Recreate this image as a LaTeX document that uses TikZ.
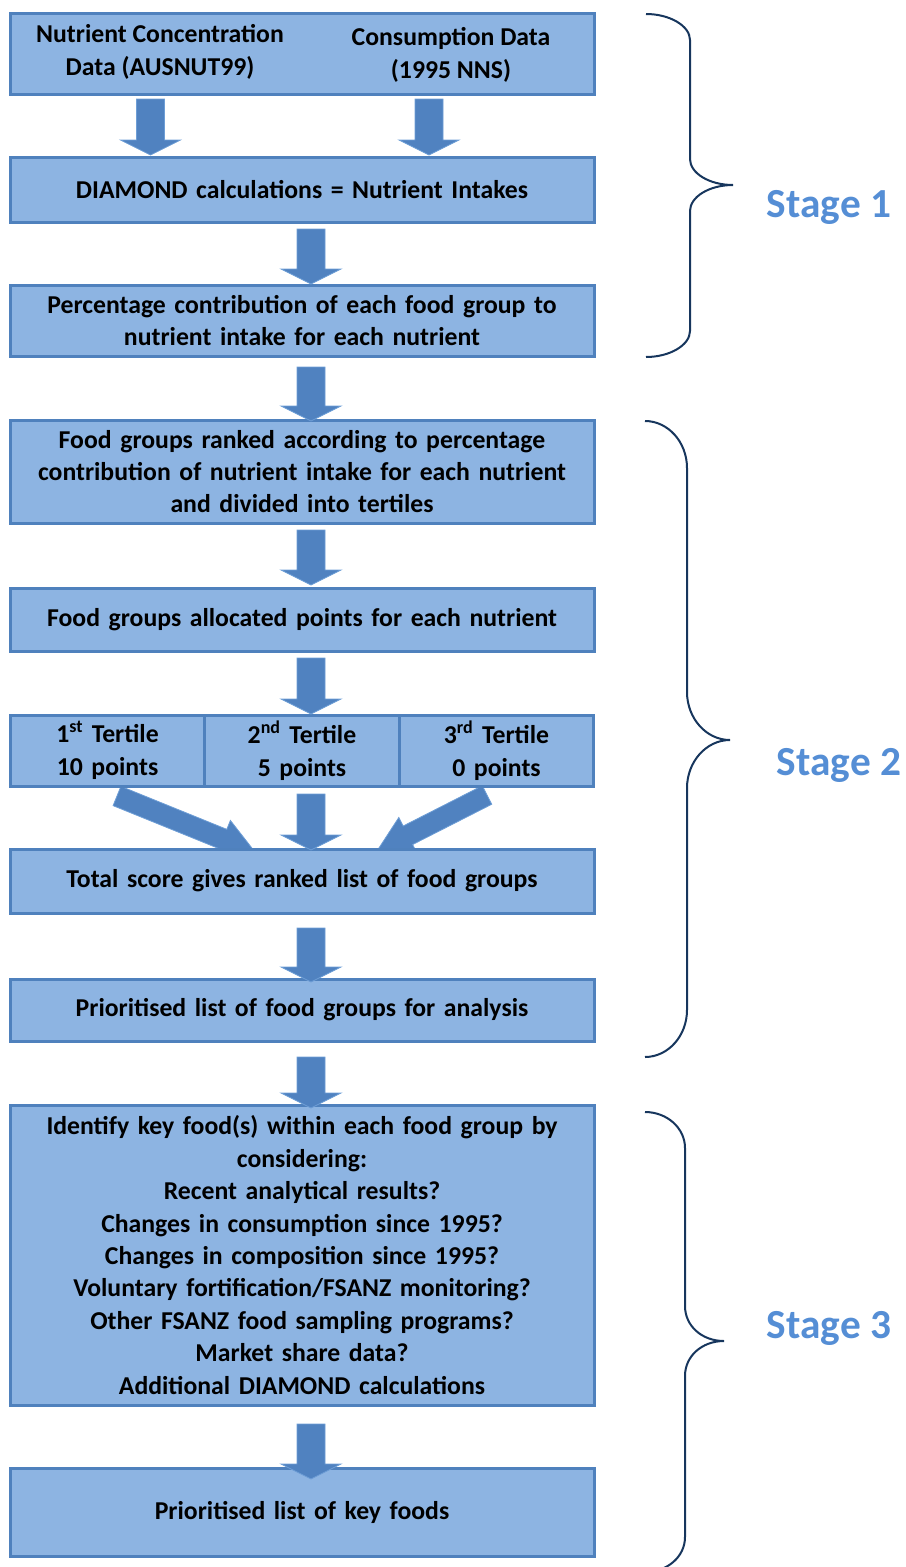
\documentclass[tikz,border=0pt]{standalone}
\usepackage{fontspec}
\setmainfont{Carlito}
\usetikzlibrary{calc}
\definecolor{boxfill}{RGB}{141,180,226}
\definecolor{boxline}{RGB}{79,129,189}
\definecolor{arrfill}{RGB}{80,130,192}
\definecolor{arrline}{RGB}{110,158,214}
\definecolor{bracecol}{RGB}{23,54,93}
\definecolor{stagecol}{RGB}{85,142,213}
% #1 start, #2 tip, #3 shaft half width, #4 head half width, #5 head length
\newcommand{\blockarrow}[5]{%
  \coordinate (ba-h) at ($(#2)!#5!(#1)$);
  \filldraw[arrowstyle] ($(#1)!#3!90:(#2)$) -- ($(ba-h)!#3!90:(#2)$) -- ($(ba-h)!#4!90:(#2)$) -- (#2) -- ($(ba-h)!#4!-90:(#2)$) -- ($(ba-h)!#3!-90:(#2)$) -- ($(#1)!#3!-90:(#2)$) -- cycle;}
\newcommand{\vblockarrow}[2]{\blockarrow{#1}{#2}{10.5pt}{22.5pt}{11.25pt}}
\newcommand{\dblockarrow}[2]{\blockarrow{#1}{#2}{7.8pt}{15pt}{26pt}}
\tikzset{
  boxtext/.style={font=\fontsize{19.3}{24.3}\selectfont\bfseries, align=center, inner sep=0pt},
  box/.style={boxtext, draw=boxline, fill=boxfill, line width=2.25pt, minimum width=438pt, text width=432pt},
  cell/.style={boxtext, draw=boxline, fill=boxfill, line width=2.25pt, minimum width=146pt, minimum height=53.25pt, text width=140pt},
  arrowstyle/.style={fill=arrfill, draw=arrline, line width=0.6pt, line join=miter},
  bracestyle/.style={draw=bracecol, line width=1.5pt},
  stage/.style={font=\fontsize{31}{36}\selectfont\bfseries, text=stagecol, inner sep=0pt}
}
\begin{document}
\begin{tikzpicture}[x=0.75pt, y=-0.75pt]
\useasboundingbox (0,0) rectangle (906,1567);
% diagonal arrows (lie under the box they point to)
\coordinate (a7s) at (117,796);   \coordinate (a7e) at (255,852);
\coordinate (a9s) at (487,795);   \coordinate (a9e) at (377,851);
\dblockarrow{a7s}{a7e}
\dblockarrow{a9s}{a9e}
% boxes
\node[box, minimum height=60.75pt] (box1) at (302,53.5) {};
\node[boxtext] (t1a) at (160,52) {Nutrient Concentration\\Data (AUSNUT99)};
\node[boxtext] (t1b) at (451,55) {Consumption Data\\(1995 NNS)};
\node[box, minimum height=48.75pt] (box2) at (302,189.5) {DIAMOND calculations = Nutrient Intakes};
\node[box, minimum height=53.25pt] (box3) at (302,320.5) {Percentage contribution of each food group to\\nutrient intake for each nutrient};
\node[box, minimum height=77.25pt] (box4) at (302,471.5) {Food groups ranked according to percentage\\contribution of nutrient intake for each nutrient\\and divided into tertiles};
\node[box, minimum height=47.25pt] (box5) at (302,619.5) {Food groups allocated points for each nutrient};
\node[cell] (c1) at (107.5,750.5) {1\textsuperscript{st} Tertile\\10 points};
\node[cell] (c2) at (302,750.5) {2\textsuperscript{nd} Tertile\\5 points};
\node[cell] (c3) at (496.5,750.5) {3\textsuperscript{rd} Tertile\\0 points};
\node[box, minimum height=48pt] (box7) at (302,881) {Total score gives ranked list of food groups};
\node[box, minimum height=46.5pt] (box8) at (302,1010) {Prioritised list of food groups for analysis};
\node[box, minimum height=225pt] (box9) at (302,1255) {Identify key food(s) within each food group by\\considering:\\Recent analytical results?\\Changes in consumption since 1995?\\Changes in composition since 1995?\\Voluntary fortification/FSANZ monitoring?\\Other FSANZ food sampling programs?\\Market share data?\\Additional DIAMOND calculations};
\node[box, minimum height=66pt] (box10) at (302,1512) {Prioritised list of key foods};
% vertical arrows
\coordinate (a1s) at (150.5,99);  \coordinate (a1e) at (150.5,155);
\coordinate (a2s) at (429,99);    \coordinate (a2e) at (429,155);
\coordinate (a3s) at (311,229);   \coordinate (a3e) at (311,284);
\coordinate (a4s) at (311,367);   \coordinate (a4e) at (311,421);
\coordinate (a5s) at (311,530);   \coordinate (a5e) at (311,585);
\coordinate (a6s) at (311,658);   \coordinate (a6e) at (311,714);
\coordinate (a8s) at (311,794);   \coordinate (a8e) at (311,850);
\coordinate (a10s) at (311,928);  \coordinate (a10e) at (311,982);
\coordinate (a11s) at (311,1057); \coordinate (a11e) at (311,1108);
\coordinate (a12s) at (311,1424); \coordinate (a12e) at (311,1479);
\vblockarrow{a1s}{a1e}
\vblockarrow{a2s}{a2e}
\vblockarrow{a3s}{a3e}
\vblockarrow{a4s}{a4e}
\vblockarrow{a5s}{a5e}
\vblockarrow{a6s}{a6e}
\vblockarrow{a8s}{a8e}
\vblockarrow{a10s}{a10e}
\vblockarrow{a11s}{a11e}
\vblockarrow{a12s}{a12e}
% braces
\draw[bracestyle] (646,14) .. controls (670,14) and (690,26) .. (690,40) -- (690,159)
  .. controls (690,173) and (709,185) .. (733,185)
  .. controls (709,185) and (690,197) .. (690,211) -- (690,331)
  .. controls (690,345) and (670,357) .. (646,357);
\draw[bracestyle] (645,421) .. controls (668,421) and (687,442) .. (687,468) -- (687,692)
  .. controls (687,718) and (706,740) .. (730,740)
  .. controls (706,740) and (687,762) .. (687,788) -- (687,1010)
  .. controls (687,1036) and (668,1057) .. (645,1057);
\draw[bracestyle] (645,1112) .. controls (667,1112) and (685,1128) .. (685,1148) -- (685,1306)
  .. controls (685,1326) and (702,1341) .. (724,1341)
  .. controls (702,1341) and (685,1356) .. (685,1376) -- (685,1537)
  .. controls (685,1557) and (667,1572) .. (645,1572);
% stage labels
\node[stage] (s1) at (829,207) {Stage 1};
\node[stage] (s2) at (839,765) {Stage 2};
\node[stage] (s3) at (829,1328) {Stage 3};
\end{tikzpicture}
\end{document}
